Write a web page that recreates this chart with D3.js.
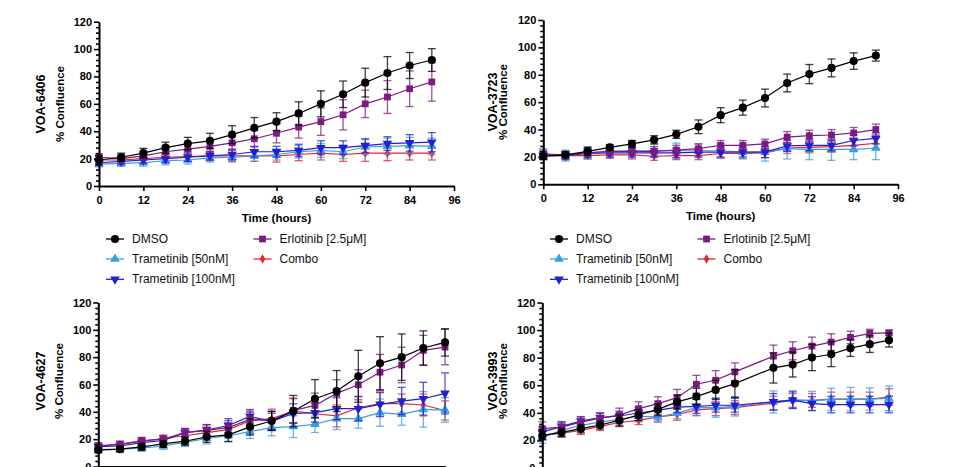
<!DOCTYPE html>
<html>
<head>
<meta charset="utf-8">
<script src="https://cdn.jsdelivr.net/npm/d3@7"></script>
<style>
  body { margin: 0; background: #fff; }
  svg { font-family: "Liberation Sans", Arial, sans-serif; }
</style>
</head>
<body>
<div id="chart"></div>
<script>
// ---- tick labels ----
var yTicks = [0, 20, 40, 60, 80, 100, 120];
var yMinor = [4, 8, 12, 16, 24, 28, 32, 36, 44, 48, 52, 56, 64, 68, 72, 76, 84, 88, 92, 96, 104, 108, 112, 116];
var xTicks96 = [0, 12, 24, 36, 48, 60, 72, 84, 96];
var xTicks108 = [0, 12, 24, 36, 48, 60, 72, 84, 96, 108];

// ---- series ----
var seriesKeys = ["dmso", "t50", "t100", "erl", "combo"];
var seriesNames = ["DMSO", "Trametinib [50nM]", "Trametinib [100nM]", "Erlotinib [2.5\u03bcM]", "Combo"];
var seriesColors = ["#000000", "#3b9ce0", "#1f1fd4", "#7d1a80", "#e3262a"];
var seriesShapes = ["circle", "up", "down", "square", "diamond"];
var drawOrder = ["combo", "t50", "t100", "erl", "dmso"];

// ---- time points ----
var hours6406 = [0, 6, 12, 18, 24, 30, 36, 42, 48, 54, 60, 66, 72, 78, 84, 90];
var hours3723 = [0, 6, 12, 18, 24, 30, 36, 42, 48, 54, 60, 66, 72, 78, 84, 90];
var hours4627 = [0, 6, 12, 18, 24, 30, 36, 42, 48, 54, 60, 66, 72, 78, 84, 90, 96];
var hours3993 = [0, 6, 12, 18, 24, 30, 36, 42, 48, 54, 60, 72, 78, 84, 90, 96, 102, 108];

// ---- VOA-6406 ----
var dmso6406 = [19, 21, 24, 28, 31, 33, 37.5, 42.5, 47, 53, 60, 67, 75.5, 82.5, 88, 92];
var dmso6406Err = [3, 3, 3.5, 4, 4.5, 5.5, 6.5, 7.5, 6.5, 8.5, 9.5, 9.7, 10.5, 12, 9.5, 8.3];
var erl6406 = [21, 20, 22, 25, 27, 29, 31.5, 34.5, 38.5, 43, 47, 52, 60, 65, 71, 76];
var erl6406Err = [2.5, 3, 3, 3.5, 4, 4.5, 5, 6, 7, 8, 10, 11, 10, 12, 13, 14];
var t1006406 = [17, 18, 19, 20, 21, 22, 23, 25, 25, 26, 28, 28, 29.5, 31, 31.5, 32];
var t1006406Err = [2, 2, 2.5, 3, 3, 3, 4, 4, 4, 4.5, 5, 5, 5, 5, 6, 7];
var t506406 = [16, 16.5, 17, 18.5, 19, 20.5, 21, 22, 23, 25, 26, 25, 28.5, 29, 29.5, 29];
var t506406Err = [2, 2, 2.5, 3, 3, 3, 3.5, 4, 4, 4.5, 5, 5, 5.5, 6, 6, 6];
var combo6406 = [19, 19, 20, 21, 21.5, 22, 22, 22, 22, 23, 24, 23, 24, 24, 24, 24];
var combo6406Err = [3, 3, 3, 3, 3.5, 3.5, 4, 4, 4.5, 4.5, 5, 5, 6, 5.5, 5, 5];

// ---- VOA-3723 ----
var dmso3723 = [20.5, 21.5, 24, 27, 29.5, 32.5, 36.5, 42, 50.5, 56, 63, 74, 80.5, 85, 90, 94];
var dmso3723Err = [2, 2, 3, 2, 2.5, 3, 3, 5, 5.5, 5.5, 6.5, 6.5, 7, 6.5, 6, 4];
var erl3723 = [22, 21.5, 23, 24, 24, 24, 25, 26, 28.5, 28.5, 29.5, 34.5, 35.5, 36, 37.5, 40];
var erl3723Err = [3, 2.5, 3, 3, 3, 3.5, 3.5, 3.5, 3.5, 3.5, 3.5, 4, 4, 4, 4, 4];
var t1003723 = [21, 21, 22.5, 23, 23, 23, 23, 23.5, 23.5, 23.5, 23.5, 28, 28.5, 28.5, 32, 33.5];
var t1003723Err = [3, 3, 3, 3, 3, 3, 3.5, 3.5, 3.5, 3.5, 4, 4, 4, 4, 4, 4];
var t503723 = [22, 21, 23, 24, 24.5, 24.5, 24.5, 24.5, 24.5, 23.5, 23.5, 26, 25.5, 25.5, 25.5, 26.5];
var t503723Err = [4, 4, 4.5, 4.5, 5, 5, 5.5, 5, 5, 5, 6.5, 7.5, 7.5, 8, 7.5, 8.5];
var combo3723 = [21, 21, 21, 21.5, 21.5, 20.5, 21, 21, 22.5, 22.5, 23, 26.5, 27, 27.5, 28.5, 30];
var combo3723Err = [2.5, 2.5, 2.5, 2.5, 3, 3, 3, 3, 3.5, 3.5, 3.5, 4, 4, 4, 4, 4];

// ---- VOA-4627 ----
var dmso4627 = [12, 12.7, 14.4, 16.5, 18.5, 21.7, 23.2, 29, 33.3, 40.5, 49.6, 55.2, 66, 75.5, 80, 86.7, 90.8];
var dmso4627Err = [2, 2, 2.5, 2.5, 3, 4, 5, 6, 7, 11.5, 14, 15, 19, 19.5, 17, 12.5, 10];
var erl4627 = [15.2, 16.4, 18.8, 20, 24.8, 26.5, 28.5, 34.5, 33.5, 41, 44.7, 53.5, 59.8, 69, 74.3, 85, 87.4];
var erl4627Err = [2, 2, 2.5, 2.5, 3, 4, 5, 6, 7, 9, 9, 10, 11, 13, 13, 11, 13];
var t1004627 = [14.5, 15, 17.5, 19, 24.8, 26.7, 30, 36.7, 33, 38.9, 39.4, 42.3, 42.3, 45.5, 47.9, 49.6, 53.5];
var t1004627Err = [2, 2, 2.5, 3, 3, 4, 5, 5, 6, 7, 7, 8, 9, 9, 10, 12, 15];
var t504627 = [12.5, 12.7, 13.5, 15, 17.7, 20.5, 22.5, 25.5, 28.5, 29.2, 30.9, 35, 35, 39.4, 38.2, 41.8, 41.3];
var t504627Err = [2, 2, 2.5, 2.5, 3, 4, 4, 5, 6, 8, 6, 8, 7, 10, 8, 13, 9];
var combo4627 = [15, 16, 18.5, 20.5, 22.5, 24.8, 27, 33.5, 35, 40.6, 38.6, 37, 43, 46, 46, 45, 41];
var combo4627Err = [2, 2, 2.5, 2.5, 3, 4, 5, 6, 7, 9, 8, 8, 8, 8, 7, 8, 7];

// ---- VOA-3993 ----
var dmso3993 = [23.6, 25.8, 28.5, 31.2, 34.5, 38.4, 42.5, 47.9, 51.8, 56.6, 61.2, 72.6, 75, 80.1, 82.5, 86.9, 89.8, 92.7];
var dmso3993Err = [3, 3, 3, 3, 4, 4, 4, 5, 6, 7, 10, 11, 9, 9.5, 9, 6, 6, 5];
var erl3993 = [28.5, 29.7, 33.3, 36.2, 38.4, 43, 46.7, 51, 60.7, 63.6, 69.7, 81.1, 85, 88.4, 91.3, 94.7, 97.6, 98];
var erl3993Err = [5, 4, 4, 4, 5, 5, 5, 6, 6.5, 7, 6.5, 8, 6.5, 6.5, 6, 4.5, 3, 2];
var t1003993 = [26, 30.2, 34, 36.5, 37.7, 39.9, 41.8, 44.2, 44.7, 45.5, 45.5, 48, 49.2, 46.7, 46, 46, 46, 46];
var t1003993Err = [4, 3, 3, 3, 3.5, 4, 4, 4, 5, 5, 5, 6, 6, 5, 6, 6, 6, 6];
var t503993 = [22, 27.3, 30.9, 33.3, 35.3, 37.5, 37, 39.8, 43.8, 43.8, 44.7, 47.9, 49.6, 48.6, 49.8, 50, 50, 50.5];
var t503993Err = [4, 4, 4, 4, 4, 4, 4, 4, 6, 7, 7, 8, 6.5, 7, 8, 8.5, 8, 9];
var combo3993 = [23.6, 25.3, 27.3, 30.2, 33, 34.5, 37, 38.6, 42.2, 43, 43.8, 47.1, 49, 49, 50, 50, 50, 51.5];
var combo3993Err = [3, 3, 3, 3, 3, 3, 3, 4, 4, 5, 5, 5, 5, 5, 5, 5, 5, 6];

// panel layout (pixel boxes) built from the arrays above
var panels = [
  { name: "VOA-6406", hours: hours6406, xMax: 96, xTicks: xTicks96,
    vals: { dmso: dmso6406, t50: t506406, t100: t1006406, erl: erl6406, combo: combo6406 },
    errs: { dmso: dmso6406Err, t50: t506406Err, t100: t1006406Err, erl: erl6406Err, combo: combo6406Err },
    left: 99, right: 454, top: 21.7, bottom: 186, nameX: 41, confX: 59.5, labelY: 104, xLabel: true, legendX: 0 },
  { name: "VOA-3723", hours: hours3723, xMax: 96, xTicks: xTicks96,
    vals: { dmso: dmso3723, t50: t503723, t100: t1003723, erl: erl3723, combo: combo3723 },
    errs: { dmso: dmso3723Err, t50: t503723Err, t100: t1003723Err, erl: erl3723Err, combo: combo3723Err },
    left: 543.3, right: 898, top: 20, bottom: 184.3, nameX: 492.5, confX: 503, labelY: 102, xLabel: true, legendX: 444 },
  { name: "VOA-4627", hours: hours4627, xMax: 96, xTicks: xTicks96,
    vals: { dmso: dmso4627, t50: t504627, t100: t1004627, erl: erl4627, combo: combo4627 },
    errs: { dmso: dmso4627Err, t50: t504627Err, t100: t1004627Err, erl: erl4627Err, combo: combo4627Err },
    left: 98.3, right: 445, top: 302.5, bottom: 466.5, nameX: 41, confX: 59, labelY: 381, xLabel: false },
  { name: "VOA-3993", hours: hours3993, xMax: 108, xTicks: xTicks108,
    vals: { dmso: dmso3993, t50: t503993, t100: t1003993, erl: erl3993, combo: combo3993 },
    errs: { dmso: dmso3993Err, t50: t503993Err, t100: t1003993Err, erl: erl3993Err, combo: combo3993Err },
    left: 542.3, right: 889, top: 302.5, bottom: 468, nameX: 492.5, confX: 503, labelY: 381, xLabel: false }
];

var svg = d3.select("#chart").append("svg")
  .attr("width", 960)
  .attr("height", 467);

function symbolPath(shape) {
  var types = { circle: d3.symbolCircle, up: d3.symbolTriangle, down: d3.symbolTriangle,
                square: d3.symbolSquare, diamond: d3.symbolDiamond };
  var sizes = { circle: 52, up: 40, down: 40, square: 46, diamond: 26 };
  return d3.symbol().type(types[shape]).size(sizes[shape])();
}

function drawMarker(g, shape, color, x, y) {
  g.append("path")
    .attr("d", symbolPath(shape))
    .attr("fill", color)
    .attr("transform", "translate(" + x + "," + y + ")" + (shape == "down" ? " rotate(180)" : ""));
}

function drawPanel(p) {
  var g = svg.append("g");

  var x = d3.scaleLinear().domain([0, p.xMax]).range([p.left, p.right]);
  var y = d3.scaleLinear().domain([0, 120]).range([p.bottom, p.top]);

  // series: error bars, line, markers
  drawOrder.forEach(function (key) {
    var i = seriesKeys.indexOf(key);
    var color = seriesColors[i];
    var vals = p.vals[key], errs = p.errs[key];
    var pts = p.hours.map(function (h, j) { return { h: h, v: vals[j], e: errs[j] }; });
    var sg = g.append("g");

    pts.forEach(function (d) {
      var lo = Math.max(0, d.v - d.e), hi = d.v + d.e;
      var cx = x(d.h);
      sg.append("line").attr("x1", cx).attr("x2", cx).attr("y1", y(lo)).attr("y2", y(hi));
      sg.append("line").attr("x1", cx - 4).attr("x2", cx + 4).attr("y1", y(hi)).attr("y2", y(hi));
      sg.append("line").attr("x1", cx - 4).attr("x2", cx + 4).attr("y1", y(lo)).attr("y2", y(lo));
    });
    sg.selectAll("line")
      .attr("stroke", color)
      .attr("stroke-opacity", 0.75)
      .attr("stroke-width", 1.3);

    var line = d3.line()
      .x(function (d) { return x(d.h); })
      .y(function (d) { return y(d.v); });

    sg.append("path")
      .datum(pts)
      .attr("d", line)
      .attr("fill", "none")
      .attr("stroke", color)
      .attr("stroke-width", 1.2);

    pts.forEach(function (d) {
      drawMarker(sg, seriesShapes[i], color, x(d.h), y(d.v));
    });
  });

  // axes
  var yAxis = d3.axisLeft(y).tickValues(yTicks).tickSize(5).tickSizeOuter(0).tickPadding(2);
  var yMinorAxis = d3.axisLeft(y).tickValues(yMinor).tickSize(3).tickSizeOuter(0).tickFormat("");
  var xAxis = d3.axisBottom(x).tickValues(p.xTicks).tickSize(5).tickSizeOuter(0).tickPadding(5);
  // bottom row: the tick labels fall below the picture edge, so leave them out
  if (!p.xLabel) xAxis.tickFormat("");

  var yg = g.append("g").attr("transform", "translate(" + p.left + ",0)").call(yAxis);
  g.append("g").attr("transform", "translate(" + p.left + ",0)").call(yMinorAxis)
    .select(".domain").remove();
  var xg = g.append("g").attr("transform", "translate(0," + p.bottom + ")").call(xAxis);

  [yg, xg].forEach(function (ag) {
    ag.attr("font-family", null).attr("font-size", 11).attr("font-weight", "bold");
    ag.select(".domain").attr("stroke-width", 2);
    ag.selectAll(".tick text").attr("fill", "#000");
  });
  g.selectAll(".tick line").attr("stroke-width", 1.6);

  // axis titles
  g.append("text")
    .attr("transform", "translate(" + p.nameX + "," + p.labelY + ") rotate(-90)")
    .attr("text-anchor", "middle")
    .attr("dominant-baseline", "central")
    .attr("font-size", 12.5)
    .attr("font-weight", "bold")
    .text(p.name);

  g.append("text")
    .attr("transform", "translate(" + p.confX + "," + p.labelY + ") rotate(-90)")
    .attr("text-anchor", "middle")
    .attr("dominant-baseline", "central")
    .attr("font-size", 11.5)
    .attr("font-weight", "bold")
    .text("% Confluence");

  if (p.xLabel) {
    g.append("text")
      .attr("x", (p.left + p.right) / 2)
      .attr("y", p.bottom + 36)
      .attr("text-anchor", "middle")
      .attr("font-size", 11.5)
      .attr("font-weight", "bold")
      .text("Time (hours)");

    drawLegend(p.legendX);
  }
}

function drawLegend(dx) {
  // column / row positions for the five entries
  var cols = [115, 262.5, 115, 262.5, 115];
  var rows = [239, 239, 259, 259, 279.3];
  var legendOrder = ["dmso", "erl", "t50", "combo", "t100"];
  var lg = svg.append("g").attr("transform", "translate(" + dx + ",0)");

  legendOrder.forEach(function (key, k) {
    var i = seriesKeys.indexOf(key);
    var cx = cols[k], cy = rows[k];
    lg.append("line")
      .attr("x1", cx - 9).attr("x2", cx + 9)
      .attr("y1", cy).attr("y2", cy)
      .attr("stroke", seriesColors[i])
      .attr("stroke-width", 1.3);
    drawMarker(lg, seriesShapes[i], seriesColors[i], cx, cy);
    lg.append("text")
      .attr("x", cx + 17)
      .attr("y", cy)
      .attr("dominant-baseline", "central")
      .attr("font-size", 12)
      .attr("fill", "#111")
      .text(seriesNames[i]);
  });
}

panels.forEach(drawPanel);
</script>
</body>
</html>
